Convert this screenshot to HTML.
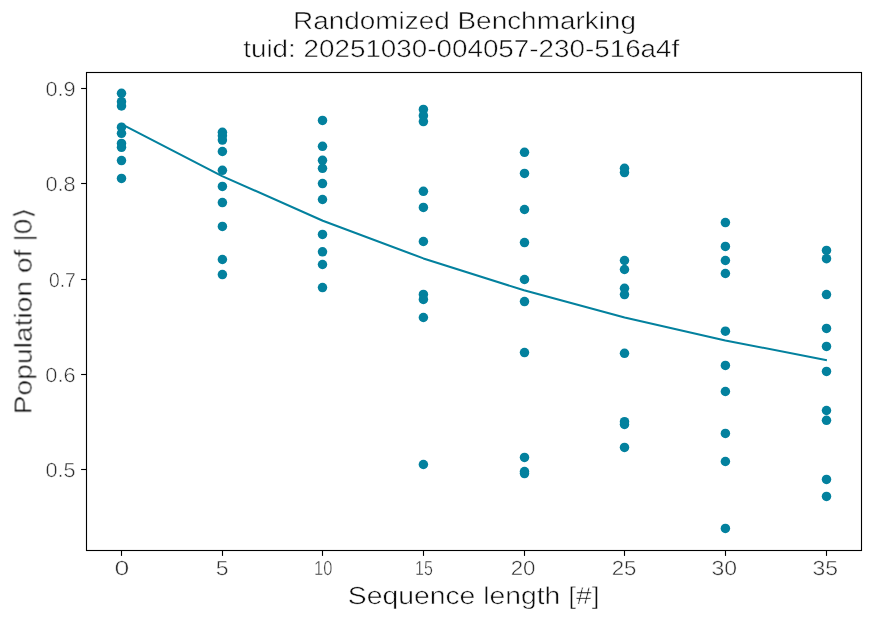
<!DOCTYPE html>
<html lang="en"><head><meta charset="utf-8"><title>Randomized Benchmarking</title>
<style>html,body{margin:0;padding:0;background:#fff}svg{display:block}text{font-family:"Liberation Sans", sans-serif;fill:#0d0d0d;stroke:#fff;stroke-width:0.5px;text-rendering:geometricPrecision}.tk{font-size:20.3px;fill:#2e2e2e;stroke-width:0.45px}.ti{font-size:24.6px}.lb{font-size:24.6px}</style></head><body>
<svg width="870" height="618" viewBox="0 0 870 618">
<rect width="870" height="618" fill="#fff"/>
<g fill="#03819e">
<circle cx="121.5" cy="93.3" r="4.75"/>
<circle cx="121.5" cy="101.7" r="4.75"/>
<circle cx="121.5" cy="106.0" r="4.75"/>
<circle cx="121.5" cy="127.2" r="4.75"/>
<circle cx="121.5" cy="133.3" r="4.75"/>
<circle cx="121.5" cy="143.4" r="4.75"/>
<circle cx="121.5" cy="147.3" r="4.75"/>
<circle cx="121.5" cy="160.6" r="4.75"/>
<circle cx="121.5" cy="178.4" r="4.75"/>
<circle cx="222.4" cy="132.3" r="4.75"/>
<circle cx="222.4" cy="135.8" r="4.75"/>
<circle cx="222.4" cy="140.1" r="4.75"/>
<circle cx="222.4" cy="151.5" r="4.75"/>
<circle cx="222.4" cy="170.3" r="4.75"/>
<circle cx="222.4" cy="186.4" r="4.75"/>
<circle cx="222.4" cy="202.6" r="4.75"/>
<circle cx="222.4" cy="226.4" r="4.75"/>
<circle cx="222.4" cy="259.5" r="4.75"/>
<circle cx="222.4" cy="274.6" r="4.75"/>
<circle cx="322.5" cy="120.4" r="4.75"/>
<circle cx="322.5" cy="146.3" r="4.75"/>
<circle cx="322.5" cy="160.3" r="4.75"/>
<circle cx="322.5" cy="168.3" r="4.75"/>
<circle cx="322.5" cy="183.6" r="4.75"/>
<circle cx="322.5" cy="199.5" r="4.75"/>
<circle cx="322.5" cy="234.4" r="4.75"/>
<circle cx="322.5" cy="251.8" r="4.75"/>
<circle cx="322.5" cy="264.5" r="4.75"/>
<circle cx="322.5" cy="287.6" r="4.75"/>
<circle cx="423.4" cy="109.4" r="4.75"/>
<circle cx="423.4" cy="115.7" r="4.75"/>
<circle cx="423.4" cy="121.6" r="4.75"/>
<circle cx="423.4" cy="191.3" r="4.75"/>
<circle cx="423.4" cy="207.4" r="4.75"/>
<circle cx="423.4" cy="241.5" r="4.75"/>
<circle cx="423.4" cy="294.4" r="4.75"/>
<circle cx="423.4" cy="299.4" r="4.75"/>
<circle cx="423.4" cy="317.5" r="4.75"/>
<circle cx="423.4" cy="464.5" r="4.75"/>
<circle cx="524.5" cy="152.3" r="4.75"/>
<circle cx="524.5" cy="173.4" r="4.75"/>
<circle cx="524.5" cy="209.5" r="4.75"/>
<circle cx="524.5" cy="242.6" r="4.75"/>
<circle cx="524.5" cy="279.5" r="4.75"/>
<circle cx="524.5" cy="301.6" r="4.75"/>
<circle cx="524.5" cy="352.6" r="4.75"/>
<circle cx="524.5" cy="457.4" r="4.75"/>
<circle cx="524.5" cy="471.6" r="4.75"/>
<circle cx="524.5" cy="473.6" r="4.75"/>
<circle cx="624.5" cy="168.3" r="4.75"/>
<circle cx="624.5" cy="172.6" r="4.75"/>
<circle cx="624.5" cy="260.5" r="4.75"/>
<circle cx="624.5" cy="269.5" r="4.75"/>
<circle cx="624.5" cy="288.3" r="4.75"/>
<circle cx="624.5" cy="294.6" r="4.75"/>
<circle cx="624.5" cy="353.3" r="4.75"/>
<circle cx="624.5" cy="421.7" r="4.75"/>
<circle cx="624.5" cy="424.5" r="4.75"/>
<circle cx="624.5" cy="447.4" r="4.75"/>
<circle cx="725.4" cy="222.6" r="4.75"/>
<circle cx="725.4" cy="246.4" r="4.75"/>
<circle cx="725.4" cy="260.5" r="4.75"/>
<circle cx="725.4" cy="273.5" r="4.75"/>
<circle cx="725.4" cy="331.2" r="4.75"/>
<circle cx="725.4" cy="365.4" r="4.75"/>
<circle cx="725.4" cy="391.5" r="4.75"/>
<circle cx="725.4" cy="433.4" r="4.75"/>
<circle cx="725.4" cy="461.5" r="4.75"/>
<circle cx="725.4" cy="528.4" r="4.75"/>
<circle cx="826.5" cy="250.4" r="4.75"/>
<circle cx="826.5" cy="258.7" r="4.75"/>
<circle cx="826.5" cy="294.6" r="4.75"/>
<circle cx="826.5" cy="328.4" r="4.75"/>
<circle cx="826.5" cy="346.4" r="4.75"/>
<circle cx="826.5" cy="371.4" r="4.75"/>
<circle cx="826.5" cy="410.5" r="4.75"/>
<circle cx="826.5" cy="420.3" r="4.75"/>
<circle cx="826.5" cy="479.4" r="4.75"/>
<circle cx="826.5" cy="496.4" r="4.75"/>
</g>
<polyline points="121.5,124.1 222.1,176.1 322.8,220.7 423.4,258.4 524.0,290.3 624.6,317.4 725.3,340.4 825.9,360.0" fill="none" stroke="#03819e" stroke-width="2.08" stroke-linejoin="round" stroke-linecap="square"/>
<rect x="86.5" y="72.5" width="775.0" height="478.0" fill="none" stroke="#000" stroke-width="1.11"/>
<g stroke="#000" stroke-width="1.11">
<line x1="81.1" y1="88.5" x2="86.5" y2="88.5"/>
<line x1="81.1" y1="183.5" x2="86.5" y2="183.5"/>
<line x1="81.1" y1="279.5" x2="86.5" y2="279.5"/>
<line x1="81.1" y1="374.5" x2="86.5" y2="374.5"/>
<line x1="81.1" y1="469.5" x2="86.5" y2="469.5"/>
<line x1="121.5" y1="550.5" x2="121.5" y2="555.9"/>
<line x1="222.5" y1="550.5" x2="222.5" y2="555.9"/>
<line x1="322.5" y1="550.5" x2="322.5" y2="555.9"/>
<line x1="423.5" y1="550.5" x2="423.5" y2="555.9"/>
<line x1="524.5" y1="550.5" x2="524.5" y2="555.9"/>
<line x1="624.5" y1="550.5" x2="624.5" y2="555.9"/>
<line x1="725.5" y1="550.5" x2="725.5" y2="555.9"/>
<line x1="826.5" y1="550.5" x2="826.5" y2="555.9"/>
</g>
<g opacity="0.999">
<g class="tk">
<text id="y0_9" class="tk" x="45.44" y="95.80" textLength="30.20" lengthAdjust="spacingAndGlyphs">0.9</text>
<text id="y0_8" class="tk" x="45.44" y="190.80" textLength="30.20" lengthAdjust="spacingAndGlyphs">0.8</text>
<text id="y0_7" class="tk" x="48.93" y="286.80" textLength="26.81" lengthAdjust="spacingAndGlyphs">0.7</text>
<text id="y0_6" class="tk" x="45.38" y="381.80" textLength="30.25" lengthAdjust="spacingAndGlyphs">0.6</text>
<text id="y0_5" class="tk" x="45.44" y="476.80" textLength="30.18" lengthAdjust="spacingAndGlyphs">0.5</text>
<text id="x0" class="tk" x="114.42" y="575.00" textLength="14.75" lengthAdjust="spacingAndGlyphs">0</text>
<text id="x5" class="tk" x="215.84" y="575.00" textLength="12.80" lengthAdjust="spacingAndGlyphs">5</text>
<text id="x10" class="tk" x="314.07" y="575.00" textLength="18.31" lengthAdjust="spacingAndGlyphs">10</text>
<text id="x15" class="tk" x="415.03" y="575.00" textLength="17.77" lengthAdjust="spacingAndGlyphs">15</text>
<text id="x20" class="tk" x="510.68" y="575.00" textLength="24.79" lengthAdjust="spacingAndGlyphs">20</text>
<text id="x25" class="tk" x="611.70" y="575.00" textLength="24.72" lengthAdjust="spacingAndGlyphs">25</text>
<text id="x30" class="tk" x="711.51" y="575.00" textLength="25.59" lengthAdjust="spacingAndGlyphs">30</text>
<text id="x35" class="tk" x="812.54" y="575.00" textLength="25.52" lengthAdjust="spacingAndGlyphs">35</text>
</g>
<text id="t1" class="ti" x="293.02" y="29.00" textLength="342.91" lengthAdjust="spacingAndGlyphs">Randomized Benchmarking</text>
<text id="t2" class="ti" x="243.25" y="56.80" textLength="436.00" lengthAdjust="spacingAndGlyphs">tuid: 20251030-004057-230-516a4f</text>
<text id="xl" class="lb" x="347.83" y="603.70" textLength="251.86" lengthAdjust="spacingAndGlyphs">Sequence length [#]</text>
<text id="yl" class="lb" transform="translate(31.50,414.37) rotate(-90)" textLength="206.70" lengthAdjust="spacingAndGlyphs">Population of |0⟩</text>
</g>
</svg></body></html>
